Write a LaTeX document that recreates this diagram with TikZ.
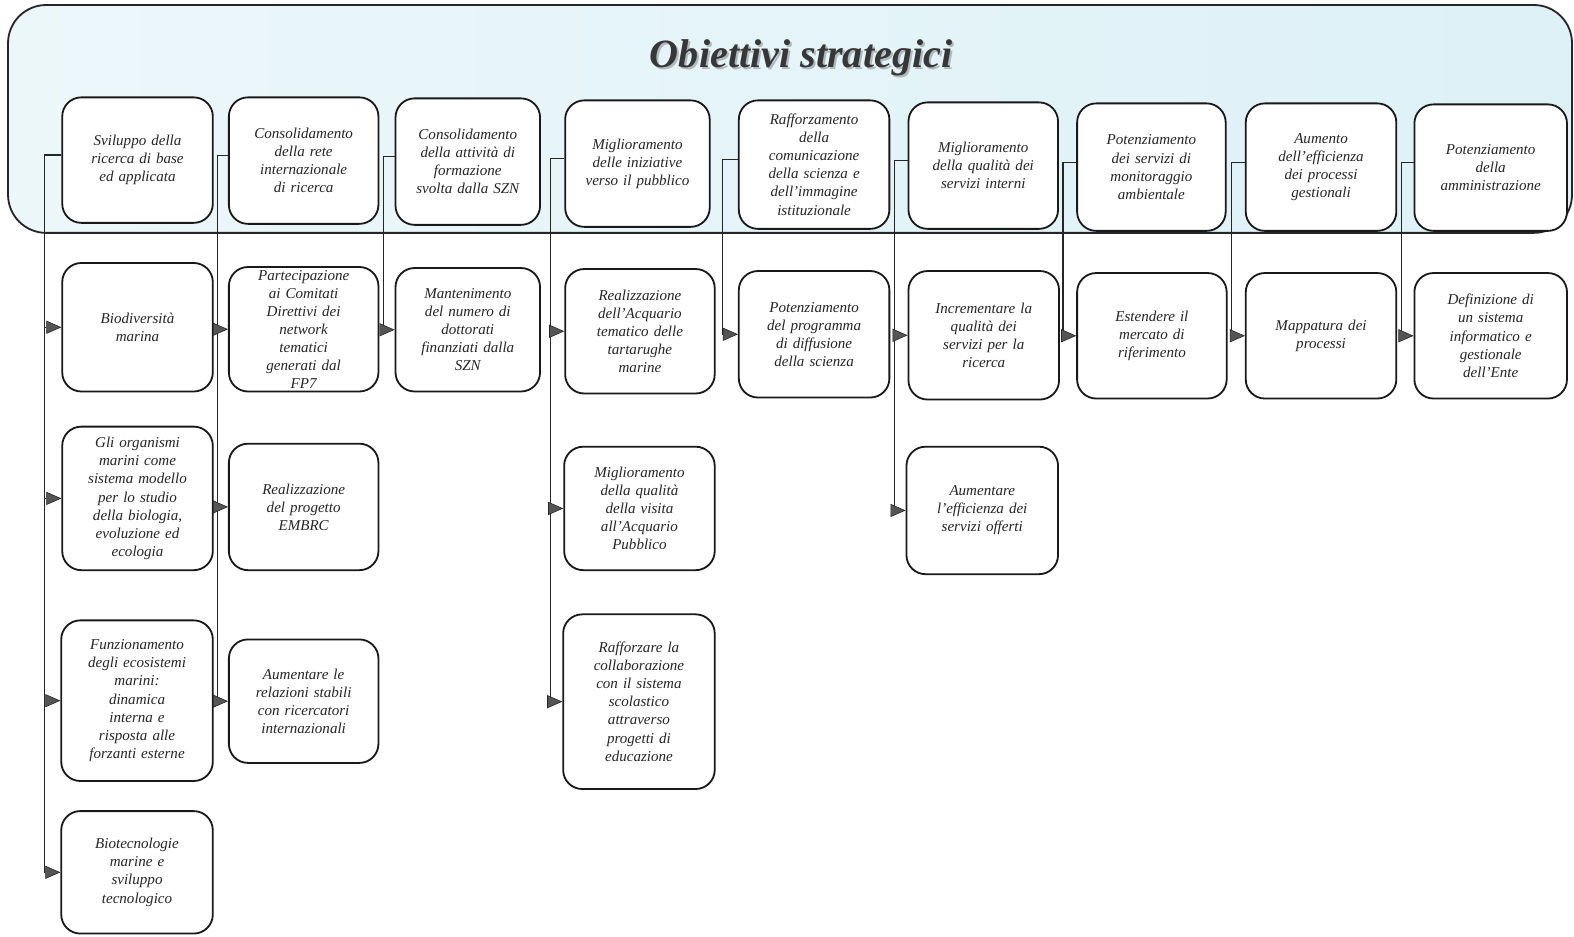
\documentclass[tikz,border=0pt]{standalone}
\usepackage{fontspec}
\setmainfont{Liberation Serif}
\usetikzlibrary{arrows.meta,calc}
\definecolor{bannerL}{RGB}{236,247,250}
\definecolor{bannerR}{RGB}{221,241,247}
\definecolor{tipgray}{RGB}{85,85,85}
\definecolor{titlegray}{RGB}{55,55,55}
\definecolor{shadowgray}{RGB}{175,185,190}
\tikzset{
  box/.style={draw=black!90, line width=1.8pt, rounded corners=19pt, fill=white,
    inner sep=0pt, align=center, font=\itshape\fontsize{15}{18}\selectfont, text=black!85},
  conn/.style={draw=black!85, line width=1.2pt},
  arr/.style={conn, -{Triangle[length=15pt,width=13pt,fill=tipgray,line width=0.6pt]}},
  banner/.style={draw=black!85, line width=1.8pt, rounded corners=38pt, left color=bannerL, right color=bannerR},
  titletext/.style={font=\fontsize{40}{44}\selectfont\bfseries\itshape, text=titlegray},
  titleshadow/.style={font=\fontsize{40}{44}\selectfont\bfseries\itshape, text=shadowgray},
}
\newcommand\obj[6]{%
  \pgfmathsetmacro\ow{#4-#2}\pgfmathsetmacro\oh{#5-#3}%
  \pgfmathsetmacro\otw{#4-#2-12}%
  \pgfmathsetmacro\ocx{(#2+#4)/2}\pgfmathsetmacro\ocy{(#3+#5)/2}%
  \node[box, minimum width=\ow pt, minimum height=\oh pt, text width=\otw pt] (#1) at (\ocx,\ocy) {#6};}
\begin{document}
\begin{tikzpicture}[x=1pt,y=-1pt]
\useasboundingbox[fill=white] (0,0) rectangle (1568,933);
% banner
\path[banner] (8,5) rectangle (1566,232);
\node[titleshadow] (titleshadow) at (800,60) {Obiettivi strategici};
\node[titletext] (title) at (798,58) {Obiettivi strategici};
% trunk x positions
\coordinate (k1) at (44,0);
\coordinate (k2) at (217,0);
\coordinate (k3) at (382,0);
\coordinate (k4) at (548,0);
\coordinate (k5) at (720,0);
\coordinate (k6) at (891,0);
\coordinate (k7) at (1059,0);
\coordinate (k8) at (1227,0);
\coordinate (k9) at (1396,0);
% top row
\obj{T1}{62}{97}{212}{222}{Sviluppo della\\ricerca di base\\ed applicata}
\obj{T2}{228}{97}{377}{223}{Consolidamento\\della rete\\internazionale\\di ricerca}
\obj{T3}{394}{98}{538}{224}{Consolidamento\\della attività di\\formazione\\svolta dalla SZN}
\obj{T4}{563}{100}{707}{226}{Miglioramento\\delle iniziative\\verso il pubblico}
\obj{T5}{736}{100}{886}{228}{Rafforzamento\\della\\comunicazione\\della scienza e\\dell'immagine\\istituzionale}
\obj{T6}{905}{102}{1054}{228}{Miglioramento\\della qualità dei\\servizi interni}
\obj{T7}{1073}{103}{1221}{230}{Potenziamento\\dei servizi di\\monitoraggio\\ambientale}
\obj{T8}{1241}{103}{1391}{230}{Aumento\\dell'efficienza\\dei processi\\gestionali}
\obj{T9}{1409}{104}{1561}{230}{Potenziamento\\della\\amministrazione}
% stub points on the top boxes
\foreach \i in {1,...,9} {\coordinate (s\i) at ([yshift=5pt]T\i.west);}
% row A
\obj{A1}{62}{262}{212}{390}{Biodiversità\\marina}
\obj{A2}{228}{266}{377}{390}{Partecipazione\\ai Comitati\\Direttivi dei\\network\\tematici\\generati dal\\FP7}
\obj{A3}{394}{267}{538}{390}{Mantenimento\\del numero di\\dottorati\\finanziati dalla\\SZN}
\obj{A4}{563}{268}{712}{392}{Realizzazione\\dell'Acquario\\tematico delle\\tartarughe\\marine}
\obj{A5}{736}{270}{886}{396}{Potenziamento\\del programma\\di diffusione\\della scienza}
\obj{A6}{905}{270}{1055}{398}{Incrementare la\\qualità dei\\servizi per la\\ricerca}
\obj{A7}{1073}{272}{1222}{397}{Estendere il\\mercato di\\riferimento}
\obj{A8}{1241}{272}{1391}{397}{Mappatura dei\\processi}
\obj{A9}{1409}{272}{1561}{397}{Definizione di\\un sistema\\informatico e\\gestionale\\dell'Ente}
% row B
\obj{B1}{62}{425}{212}{568}{Gli organismi\\marini come\\sistema modello\\per lo studio\\della biologia,\\evoluzione ed\\ecologia}
\obj{B2}{228}{442}{377}{568}{Realizzazione\\del progetto\\EMBRC}
\obj{B4}{562}{445}{712}{568}{Miglioramento\\della qualità\\della visita\\all'Acquario\\Pubblico}
\obj{B6}{903}{445}{1054}{572}{Aumentare\\l'efficienza dei\\servizi offerti}
% row C
\obj{C1}{61}{618}{212}{778}{Funzionamento\\degli ecosistemi\\marini:\\dinamica\\interna e\\risposta alle\\forzanti esterne}
\obj{C2}{228}{637}{377}{760}{Aumentare le\\relazioni stabili\\con ricercatori\\internazionali}
\obj{C4}{561}{612}{712}{786}{Rafforzare la\\collaborazione\\con il sistema\\scolastico\\attraverso\\progetti di\\educazione}
% row D
\obj{D1}{61}{808}{212}{930}{Biotecnologie\\marine e\\sviluppo\\tecnologico}
% connectors column 1
\draw[arr] (s1) -- (s1 -| k1) |- (D1.west);
\draw[arr] (A1.west -| k1) -- (A1.west);
\draw[arr] (B1.west -| k1) -- (B1.west);
\draw[arr] (C1.west -| k1) -- (C1.west);
% column 2
\draw[arr] (s2) -- (s2 -| k2) |- (C2.west);
\draw[arr] (A2.west -| k2) -- (A2.west);
\draw[arr] (B2.west -| k2) -- (B2.west);
% column 3
\draw[arr] (s3) -- (s3 -| k3) |- (A3.west);
% column 4
\draw[arr] (s4) -- (s4 -| k4) |- (C4.west);
\draw[arr] (A4.west -| k4) -- (A4.west);
\draw[arr] (B4.west -| k4) -- (B4.west);
% column 5
\draw[arr] (s5) -- (s5 -| k5) |- (A5.west);
% column 6
\draw[arr] (s6) -- (s6 -| k6) |- (B6.west);
\draw[arr] (A6.west -| k6) -- (A6.west);
% columns 7-9
\draw[arr] (s7) -- (s7 -| k7) |- (A7.west);
\draw[arr] (s8) -- (s8 -| k8) |- (A8.west);
\draw[arr] (s9) -- (s9 -| k9) |- (A9.west);
\end{tikzpicture}
\end{document}
